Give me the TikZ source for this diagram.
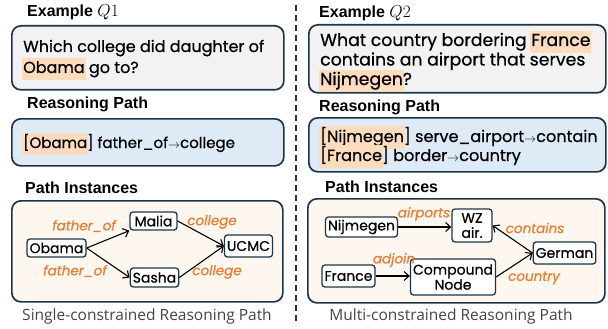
\documentclass[tikz,border=0pt]{standalone}
\usepackage{fontspec}
\setmainfont{Poppins}[RawFeature={embolden=0.6}]
\newfontfamily\headfont{Liberation Sans}
\newfontfamily\capfont{Open Sans}
\usetikzlibrary{arrows.meta}
\definecolor{navy}{HTML}{1E3546}
\definecolor{boxgray}{HTML}{F2F2F2}
\definecolor{boxblue}{HTML}{DEEBF7}
\definecolor{boxcream}{HTML}{FDF7F0}
\definecolor{hl}{HTML}{FDDCBE}
\definecolor{lbl}{HTML}{ED7D31}
\definecolor{capgray}{HTML}{444444}
\newcommand\hlt[1]{\begingroup\fboxsep=1pt\hspace{-\fboxsep}\colorbox{hl}{\strut#1}\hspace{-\fboxsep}\endgroup}
\newcommand\rarr{{\fontsize{12.5}{12}\selectfont$\rightarrow$}}
\tikzset{
  panel/.style={draw=navy, line width=1.7pt, rounded corners=9pt, anchor=north west, inner sep=0pt},
  head/.style={font=\headfont\bfseries\fontsize{16}{18}\selectfont, anchor=base west, inner sep=0pt},
  body/.style={anchor=base west, inner sep=0pt, align=left},
  ent/.style={draw=navy, line width=1.3pt, rounded corners=3pt, fill=white, inner xsep=2.5pt, inner ysep=1pt,
              font=\fontsize{14}{15}\selectfont, align=center},
  rel/.style={font=\itshape\fontsize{13.5}{14}\selectfont, text=lbl, inner sep=0pt},
  arr/.style={-{Straight Barb[length=5pt,width=9pt,line width=1.1pt]}, line width=1.1pt, black},
  caption/.style={font=\capfont\fontsize{15.5}{18}\selectfont, text=capgray, inner sep=0pt}
}
\begin{document}
\begin{tikzpicture}[x=1pt,y=-1pt]
\useasboundingbox (0,0) rectangle (608,329);
% divider
\draw[navy, line width=1.5pt, dash pattern=on 6pt off 4pt] (296,5) -- (296,325);

% ===== Left panel =====
\node[head] (lex) at (27,17) {Example $Q1$};
\node[panel, fill=boxgray, minimum width=272pt, minimum height=64pt] (q1box) at (11,25) {};
\node[body, font=\fontsize{16}{20}\selectfont] (q1a) at (23,52) {Which college did daughter of};
\node[body, font=\fontsize{16}{20}\selectfont] (q1b) at (23,73) {\hlt{Obama} go to?};

\node[head] (lrp) at (27,109) {Reasoning Path};
\node[panel, fill=boxblue, minimum width=272pt, minimum height=47pt] (rp1box) at (11,118) {};
\node[body, font=\fontsize{15}{20}\selectfont] (rp1) at (23,148) {\hlt{[Obama}] father\_of\rarr college};

\node[head] (lpi) at (25,193) {Path Instances};
\node[panel, fill=boxcream, minimum width=271pt, minimum height=101pt] (pi1box) at (11,200) {};

\node[ent, minimum width=59pt, minimum height=18pt] (obama) at (56.5,248) {Obama};
\node[ent, minimum width=47pt, minimum height=18pt] (malia) at (153.5,221) {Malia};
\node[ent, minimum width=47pt, minimum height=19pt] (sasha) at (154.5,277.5) {Sasha};
\node[ent, minimum width=47pt, minimum height=22pt] (ucmc) at (248.5,246) {UCMC};

\draw[arr] (obama.east) -- (malia.south west);
\draw[arr] (obama.east) -- (sasha.west);
\draw[arr] (malia.east) -- (ucmc.west);
\draw[arr] (sasha.east) -- (ucmc.west);

\node[rel] (r1) at (84,226) {father\_of};
\node[rel] (r2) at (75,271) {father\_of};
\node[rel] (r3) at (212,222) {college};
\node[rel] (r4) at (217,272) {college};

\node[caption] (cap1) at (147,316) {Single-constrained Reasoning Path};

% ===== Right panel =====
\node[head] (rex) at (319,18) {Example $Q2$};
\node[panel, fill=boxgray, minimum width=297pt, minimum height=68pt] (q2box) at (308,24) {};
\node[body, font=\fontsize{17.3}{20}\selectfont] (q2a) at (320,46) {What country bordering \hlt{France}};
\node[body, font=\fontsize{17.3}{20}\selectfont] (q2b) at (320,65.5) {contains an airport that serves};
\node[body, font=\fontsize{17.3}{20}\selectfont] (q2c) at (320,85) {\hlt{Nijmegen}?};

\node[head] (rrp) at (319,111) {Reasoning Path};
\node[panel, fill=boxblue, minimum width=297pt, minimum height=54pt] (rp2box) at (308,117) {};
\node[body, font=\fontsize{16.1}{20}\selectfont] (rp2a) at (320,142) {\hlt{[Nijmegen}] serve\_airport\rarr contain};
\node[body, font=\fontsize{16.1}{20}\selectfont] (rp2b) at (320,161) {\hlt{[France}] border\rarr country};

\node[head] (rpi) at (325,192) {Path Instances};
\node[panel, fill=boxcream, minimum width=297pt, minimum height=104pt] (pi2box) at (307,198) {};

\node[ent, minimum width=71pt, minimum height=20pt] (nij) at (361.5,227) {Nijmegen};
\node[ent, minimum width=40pt, minimum height=33pt] (wz) at (472,225.5) {WZ\\air.};
\node[ent, minimum width=53pt, minimum height=22pt] (france) at (348.5,276) {France};
\node[ent, minimum width=84pt, minimum height=36pt] (comp) at (453,277) {Compound\\Node};
\node[ent, minimum width=59pt, minimum height=22pt] (german) at (564.5,253) {German};

\draw[arr] (nij.east) -- (wz.west |- nij.east);
\draw[arr] (german.west) -- (wz.east);
\draw[arr] (france.east) -- (comp.west |- france.east);
\draw[arr] (comp.east) -- (german.west);

\node[rel] (r5) at (424,214) {airports};
\node[rel] (r6) at (535,228) {contains};
\node[rel] (r7) at (394,260) {adjoin};
\node[rel] (r8) at (534,278) {country};

\node[caption] (cap2) at (451,316) {Multi-constrained Reasoning Path};
\end{tikzpicture}
\end{document}
